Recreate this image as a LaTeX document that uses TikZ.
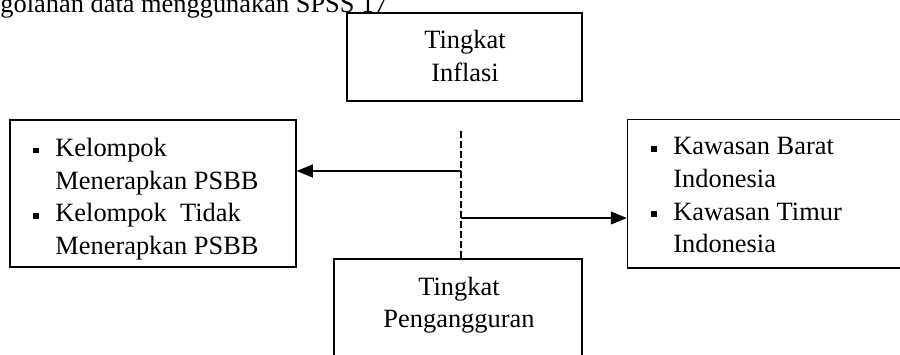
\documentclass[tikz,border=0pt]{standalone}
\usepackage{fontspec}
\setmainfont{Liberation Serif}
\usetikzlibrary{arrows.meta,positioning}
\newcommand{\sqbullet}{\makebox[11pt][l]{\raisebox{1.5pt}{\rule{3pt}{3pt}}}}
\newcommand{\itemgap}{\hspace*{11pt}}
\tikzset{every node/.style={font=\fontsize{13.2}{16.3}\selectfont, inner sep=0pt},
  box/.style={draw, fill=white, rectangle, line width=0.75pt},
  link/.style={line width=0.6pt, -{Triangle[length=8pt,width=6.5pt]}}}
\tikzstyle{guide}=[line width=0.6pt, dash pattern=on 3.3pt off 1.7pt]

\begin{document}
\begin{tikzpicture}[x=0.5pt,y=0.5pt]
  \useasboundingbox (0,0) rectangle (900,354);
  \clip (0,0) rectangle (900,354);
  \node [anchor=base west] (caption) at (0,341) {golahan data menggunakan SPSS 17};

  \node [box, minimum width=117.6pt, minimum height=44pt] (inflasi) at (464.5,297) {};
  \node [anchor=base] (inflasitext) at (465,305)
    {\begin{tabular}[t]{@{}c@{}}Tingkat\\Inflasi\end{tabular}};

  \node [box, minimum width=143pt, minimum height=73.5pt] (psbb) at (153,160.5) {};
  \node [anchor=base west] (psbbtext) at (33,197.5)
    {\begin{tabular}[t]{@{}l@{}}\sqbullet Kelompok\\\itemgap Menerapkan PSBB\\
      \sqbullet Kelompok\ \ Tidak\\\itemgap Menerapkan PSBB\end{tabular}};

  \node [box, minimum width=150pt, minimum height=74.25pt] (kawasan) at (777.5,160.25) {};
  \node [anchor=base west] (kawasantext) at (651,199)
    {\begin{tabular}[t]{@{}l@{}}\sqbullet Kawasan Barat\\\itemgap Indonesia\\
      \sqbullet Kawasan Timur\\\itemgap Indonesia\end{tabular}};

  \node [box, minimum width=124pt, minimum height=60.5pt] (pengangguran) at (458,34.5) {};
  \node [anchor=base] (penganggurantext) at (459,59)
    {\begin{tabular}[t]{@{}c@{}}Tingkat\\Pengangguran\end{tabular}};

  \coordinate (dashtop) at (461,223);
  \coordinate (leftfrom) at (461,183);
  \coordinate (rightfrom) at (461,136);
  \draw [guide] (dashtop) -- (dashtop |- pengangguran.north);
  \draw [link] (leftfrom) -- (leftfrom -| psbb.east);
  \draw [link] (rightfrom) -- (rightfrom -| kawasan.west);
\end{tikzpicture}
\end{document}
